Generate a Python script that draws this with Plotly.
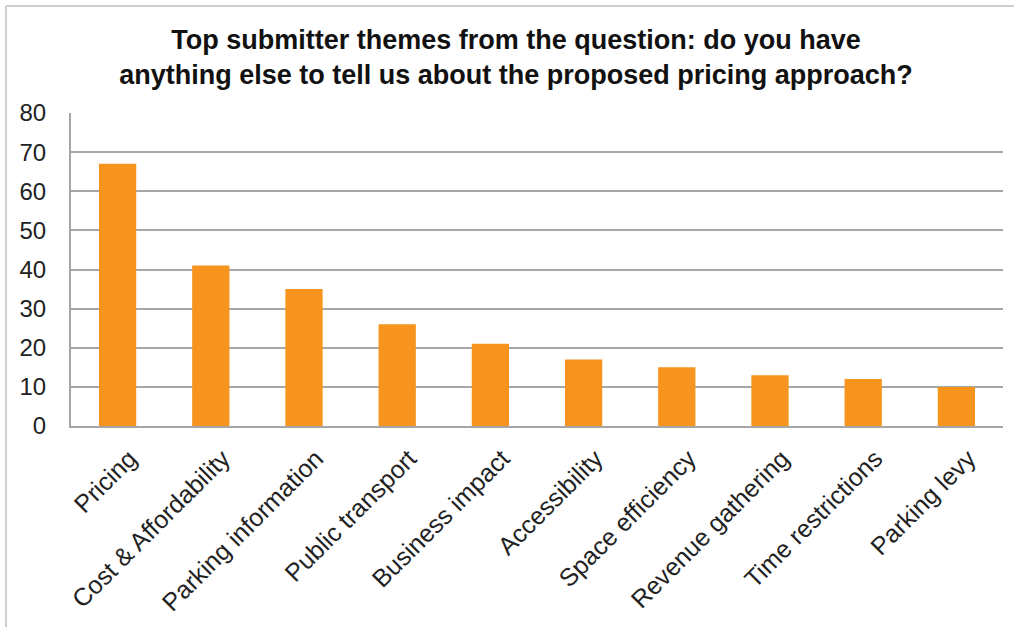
import plotly.graph_objects as go

themes = [
    "Pricing", "Cost & Affordability", "Parking information", "Public transport",
    "Business impact", "Accessibility", "Space efficiency", "Revenue gathering",
    "Time restrictions", "Parking levy",
]
counts = [67, 41, 35, 26, 21, 17, 15, 13, 12, 10]
y_ticks = [0, 10, 20, 30, 40, 50, 60, 70, 80]

W, H = 1014, 627
ML, MR, MT, MB = 71, 11, 113, 201
PW, PH = W - ML - MR, H - MT - MB

def px_x(x):
    return (x - ML) / PW

def px_y(y):
    return (H - MB - y) / PH

fig = go.Figure(
    go.Bar(
        x=themes,
        y=counts,
        marker=dict(color="#F7941D", line=dict(width=0)),
    )
)

fig.update_layout(
    width=W,
    height=H,
    margin=dict(l=ML, r=MR, t=MT, b=MB),
    paper_bgcolor="white",
    plot_bgcolor="white",
    bargap=0.6,
    showlegend=False,
    font=dict(family="Liberation Sans, Arial, sans-serif", color="#1a1a1a"),
    title=dict(
        text="<b>Top submitter themes from the question: do you have<br>"
             "anything else to tell us about the proposed pricing approach?</b>",
        x=516 / W,
        xanchor="center",
        xref="container",
        y=1 - 49 / H,
        yanchor="middle",
        font=dict(size=27, color="#111111"),
    ),
    xaxis=dict(
        tickangle=-45,
        tickfont=dict(size=25, color="#222222"),
        showline=True,
        linecolor="#a6a6a6",
        linewidth=2,
        showgrid=False,
        ticks="",
        ticklabelstandoff=6,
        ticklabelshift=12,
        automargin=False,
    ),
    yaxis=dict(
        range=[0, 80],
        tickvals=y_ticks,
        tickfont=dict(size=24, color="#222222"),
        showline=True,
        linecolor="#a6a6a6",
        linewidth=2,
        gridcolor="#a6a6a6",
        gridwidth=1.5,
        zeroline=False,
        ticks="",
        ticklabelstandoff=18,
        automargin=False,
    ),
    shapes=[
        dict(type="line", xref="paper", yref="paper",
             x0=px_x(6), x1=px_x(1014), y0=px_y(6), y1=px_y(6),
             line=dict(color="#cfcfcf", width=2)),
        dict(type="line", xref="paper", yref="paper",
             x0=px_x(6), x1=px_x(6), y0=px_y(6), y1=px_y(627),
             line=dict(color="#cfcfcf", width=2)),
    ],
)

fig.write_html("out.html")
